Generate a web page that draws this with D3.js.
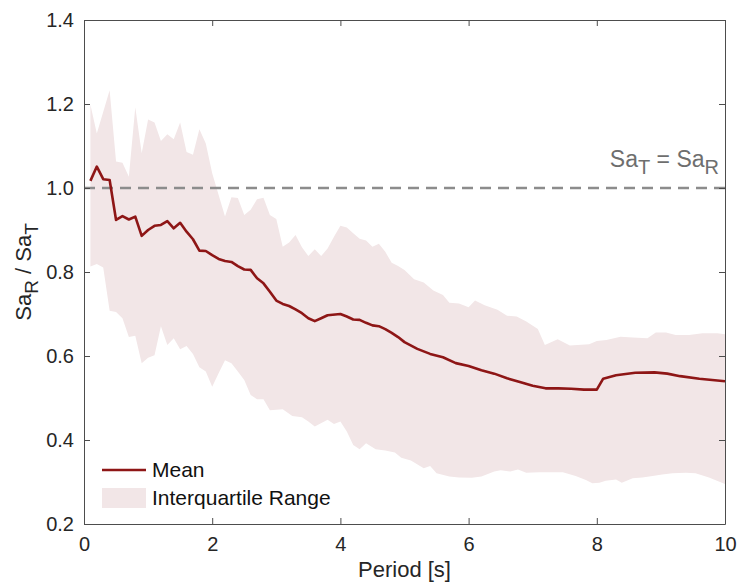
<!DOCTYPE html>
<html>
<head>
<meta charset="utf-8">
<script src="https://cdn.jsdelivr.net/npm/d3@7"></script>
<style>
  body { margin: 0; background: #fff; }
  svg { display: block; font-family: "Liberation Sans", Arial, sans-serif; }
</style>
</head>
<body>
<svg id="chart"></svg>
<script>
// mean ratio Sa_R / Sa_T
const meanPeriod = [0.1,0.2,0.3,0.4,0.5,0.6,0.7,0.8,0.9,1.0,1.1,1.2,1.3,1.4,1.5,1.6,1.7,1.8,1.9,2.0,2.1,2.2,2.3,2.4,2.5,2.6,2.7,2.8,2.9,3.0,3.1,3.2,3.3,3.4,3.5,3.6,3.7,3.8,4.0,4.1,4.2,4.3,4.4,4.5,4.6,4.7,4.8,4.9,5.0,5.2,5.4,5.6,5.8,6.0,6.2,6.4,6.6,6.8,7.0,7.2,7.4,7.6,7.8,8.0,8.1,8.3,8.6,8.9,9.1,9.3,9.6,10.0];
const meanValues = [1.017,1.051,1.021,1.019,0.924,0.933,0.925,0.932,0.886,0.900,0.910,0.912,0.921,0.904,0.917,0.896,0.878,0.851,0.850,0.840,0.831,0.826,0.824,0.814,0.806,0.805,0.785,0.773,0.753,0.732,0.724,0.719,0.711,0.702,0.690,0.683,0.690,0.697,0.700,0.694,0.687,0.686,0.679,0.673,0.671,0.664,0.655,0.645,0.633,0.617,0.605,0.597,0.583,0.576,0.566,0.558,0.547,0.538,0.529,0.523,0.523,0.522,0.520,0.520,0.546,0.554,0.560,0.561,0.558,0.552,0.546,0.540];

// 75th percentile (upper edge of band)
const upperPeriod = [0.1,0.2,0.4,0.5,0.6,0.7,0.8,0.9,1.0,1.1,1.2,1.3,1.4,1.5,1.6,1.7,1.8,1.9,2.0,2.2,2.3,2.4,2.5,2.6,2.7,2.8,2.9,3.0,3.1,3.2,3.3,3.4,3.5,3.6,3.7,3.8,3.9,4.0,4.1,4.2,4.3,4.4,4.5,4.6,4.7,4.8,4.9,5.0,5.15,5.3,5.45,5.6,5.7,5.85,6.0,6.1,6.25,6.45,6.6,6.75,6.9,7.08,7.19,7.39,7.58,7.88,8.0,8.15,8.37,8.56,8.79,8.92,9.08,9.23,9.44,9.65,9.88,10.0];
const upperValues = [1.198,1.130,1.233,1.063,1.060,1.027,1.192,1.083,1.163,1.156,1.112,1.128,1.116,1.156,1.086,1.079,1.140,1.106,1.035,0.932,0.978,0.976,0.936,0.948,0.973,0.977,0.936,0.926,0.860,0.870,0.888,0.859,0.838,0.854,0.838,0.856,0.884,0.910,0.906,0.892,0.879,0.875,0.860,0.867,0.848,0.822,0.814,0.805,0.783,0.775,0.756,0.745,0.727,0.725,0.716,0.732,0.721,0.710,0.696,0.694,0.682,0.664,0.626,0.640,0.625,0.628,0.636,0.638,0.646,0.644,0.642,0.656,0.656,0.650,0.650,0.654,0.654,0.652];

// 25th percentile (lower edge of band)
const lowerPeriod = [0.1,0.2,0.3,0.4,0.5,0.6,0.7,0.8,0.9,1.0,1.1,1.2,1.3,1.4,1.5,1.6,1.7,1.8,1.9,2.0,2.1,2.2,2.3,2.4,2.5,2.6,2.7,2.8,2.9,3.1,3.25,3.4,3.5,3.6,3.8,3.9,4.0,4.1,4.2,4.3,4.4,4.55,4.7,4.85,4.95,5.1,5.3,5.4,5.5,5.7,5.85,6.05,6.2,6.4,6.5,6.65,6.77,6.9,7.1,7.47,7.67,7.83,7.93,8.04,8.14,8.3,8.39,8.56,8.71,8.87,9.02,9.18,9.39,9.54,9.75,10.0];
const lowerValues = [0.813,0.819,0.811,0.708,0.705,0.690,0.645,0.648,0.583,0.596,0.602,0.671,0.626,0.642,0.616,0.624,0.605,0.573,0.563,0.527,0.559,0.590,0.583,0.563,0.543,0.507,0.497,0.497,0.471,0.473,0.457,0.454,0.444,0.432,0.448,0.438,0.444,0.420,0.388,0.378,0.392,0.378,0.375,0.370,0.358,0.351,0.333,0.338,0.321,0.313,0.311,0.310,0.313,0.325,0.328,0.325,0.330,0.322,0.323,0.323,0.314,0.305,0.297,0.298,0.303,0.306,0.298,0.309,0.311,0.314,0.318,0.321,0.322,0.321,0.311,0.295];

const xTicks = [0, 2, 4, 6, 8, 10];
const yTicks = [0.2, 0.4, 0.6, 0.8, 1.0, 1.2, 1.4];
const refValue = 1.0;

const width = 737;
const height = 585;
const margin = { top: 20, right: 12, bottom: 61, left: 84 };
const innerW = width - margin.left - margin.right;
const innerH = height - margin.top - margin.bottom;

const svg = d3.select("#chart").attr("width", width).attr("height", height);
const g = svg.append("g").attr("transform", `translate(${margin.left},${margin.top})`);

const x = d3.scaleLinear().domain([0, 10]).range([0, innerW]);
const y = d3.scaleLinear().domain([0.2, 1.4]).range([innerH, 0]);

const upper = upperPeriod.map((t, i) => [t, upperValues[i]]);
const lower = lowerPeriod.map((t, i) => [t, lowerValues[i]]);
const mean = meanPeriod.map((t, i) => [t, meanValues[i]]);

// band polygon: upper edge forward, lower edge back
const band = upper.concat(lower.slice().reverse());
const line = d3.line().x(d => x(d[0])).y(d => y(d[1]));

g.append("path")
  .attr("d", line(band) + "Z")
  .attr("fill", "#f2e6e7");

// reference line Sa_T = Sa_R
g.append("line")
  .attr("x1", x(0)).attr("x2", x(10))
  .attr("y1", y(refValue)).attr("y2", y(refValue))
  .attr("stroke", "#8c8c8c")
  .attr("stroke-width", 2.5)
  .attr("stroke-dasharray", "11,7");

g.append("path")
  .datum(mean)
  .attr("d", line)
  .attr("fill", "none")
  .attr("stroke", "#8e1616")
  .attr("stroke-width", 2.6)
  .attr("stroke-linejoin", "round");

// axes, MATLAB-style box with inward ticks
const axisColor = "#4d4d4d";
const styleAxis = sel => {
  sel.select(".domain").attr("stroke", axisColor);
  sel.selectAll(".tick line").attr("stroke", axisColor);
  sel.selectAll("text").attr("fill", "#262626").style("font-size", "20px")
    .style("font-family", '"Liberation Sans", Arial, sans-serif');
};

g.append("g")
  .attr("transform", `translate(0,${innerH})`)
  .call(d3.axisBottom(x).tickValues(xTicks).tickSizeInner(-6).tickSizeOuter(0).tickPadding(13).tickFormat(d3.format("d")))
  .call(styleAxis);

g.append("g")
  .call(d3.axisLeft(y).tickValues(yTicks).tickSizeInner(-6).tickSizeOuter(0).tickPadding(10).tickFormat(d3.format(".1f")))
  .call(styleAxis);

g.append("g")
  .call(d3.axisTop(x).tickValues(xTicks).tickSizeInner(-6).tickSizeOuter(0).tickFormat(""))
  .call(styleAxis);

g.append("g")
  .attr("transform", `translate(${innerW},0)`)
  .call(d3.axisRight(y).tickValues(yTicks).tickSizeInner(-6).tickSizeOuter(0).tickFormat(""))
  .call(styleAxis);

// axis titles
svg.append("text")
  .attr("x", margin.left + innerW / 2)
  .attr("y", 577)
  .attr("text-anchor", "middle")
  .attr("fill", "#262626")
  .style("font-size", "22px")
  .text("Period [s]");

const yl = svg.append("text")
  .attr("transform", `translate(31,${margin.top + innerH / 2}) rotate(-90)`)
  .attr("text-anchor", "middle")
  .attr("fill", "#262626")
  .style("font-size", "22px");
yl.append("tspan").text("Sa");
yl.append("tspan").attr("dy", 7).style("font-size", "19px").text("R");
yl.append("tspan").attr("dy", -7).text(" / Sa");
yl.append("tspan").attr("dy", 7).style("font-size", "19px").text("T");

// annotation
const ann = g.append("text")
  .attr("x", innerW - 6)
  .attr("y", y(refValue) - 21)
  .attr("text-anchor", "end")
  .attr("fill", "#6e6e6e")
  .style("font-size", "23px");
ann.append("tspan").text("Sa");
ann.append("tspan").attr("dy", 7).style("font-size", "20px").text("T");
ann.append("tspan").attr("dy", -7).text(" = Sa");
ann.append("tspan").attr("dy", 7).style("font-size", "20px").text("R");

// legend
const lg = svg.append("g").attr("transform", "translate(102,470)");
lg.append("line")
  .attr("x1", 0).attr("x2", 44).attr("y1", 0).attr("y2", 0)
  .attr("stroke", "#8e1616").attr("stroke-width", 2.6);
lg.append("text")
  .attr("x", 50).attr("y", 7)
  .attr("fill", "#111").style("font-size", "21px")
  .text("Mean");
lg.append("rect")
  .attr("x", 0).attr("y", 18).attr("width", 44).attr("height", 20)
  .attr("fill", "#f2e6e7");
lg.append("text")
  .attr("x", 50).attr("y", 35)
  .attr("fill", "#111").style("font-size", "21px")
  .text("Interquartile Range");
</script>
</body>
</html>
